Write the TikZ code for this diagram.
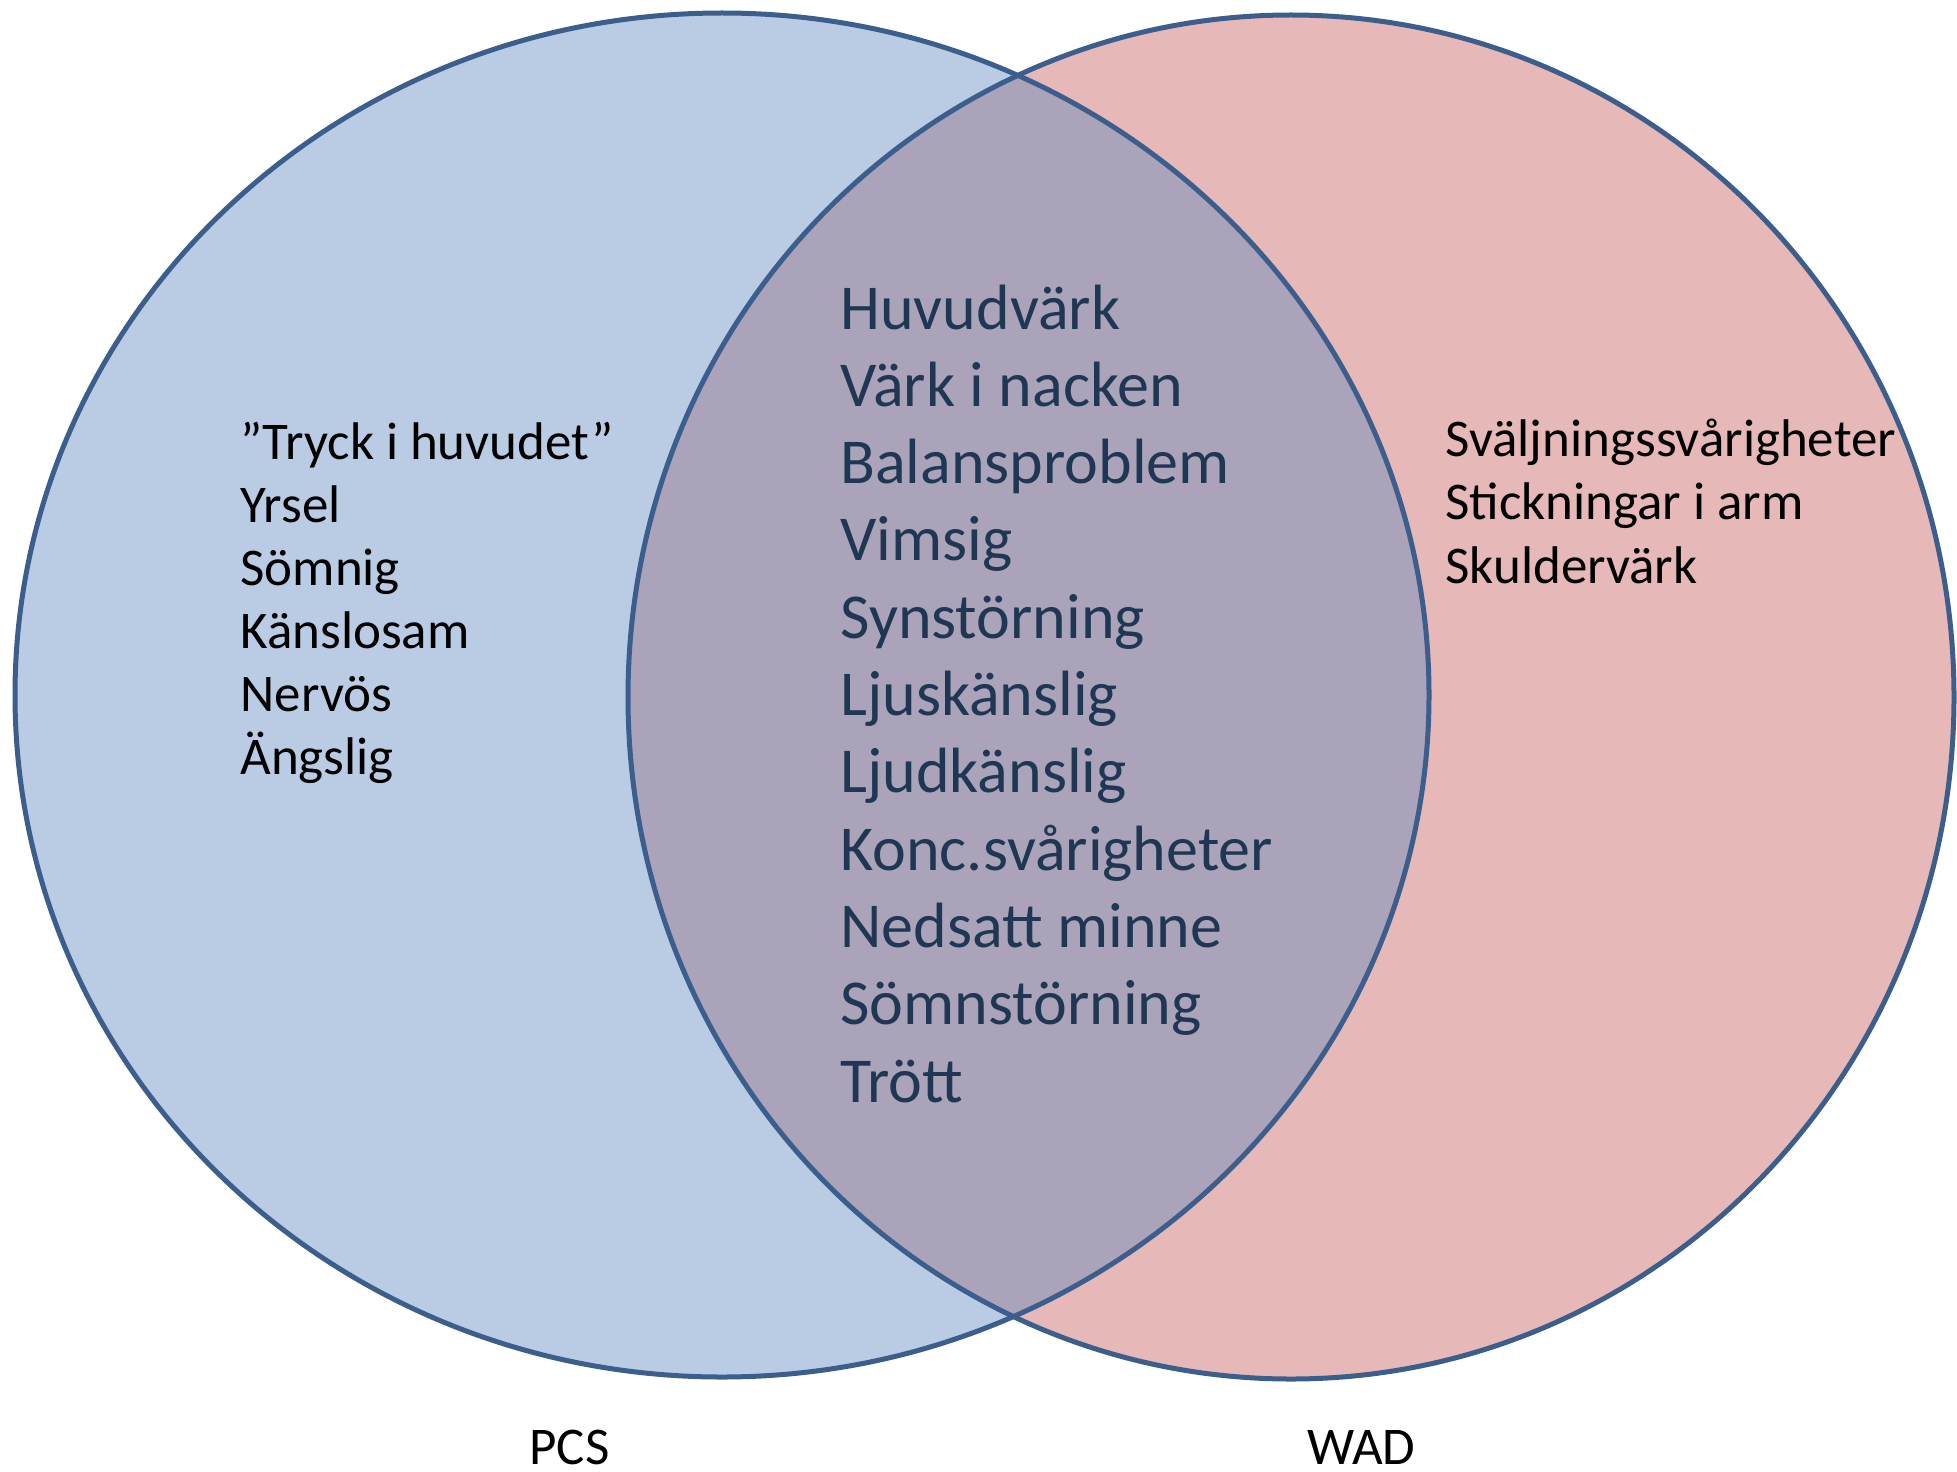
\documentclass[tikz,border=0pt]{standalone}
\usepackage{fontspec}
\setmainfont{Carlito}
\definecolor{leftfill}{HTML}{B9CCE4}
\definecolor{rightfill}{HTML}{E6B8B7}
\definecolor{lensfill}{HTML}{AAA3BA}
\definecolor{rim}{HTML}{3B5E8C}
\definecolor{midtext}{HTML}{1F3752}
\begin{document}
\begin{tikzpicture}[x=0.5pt,y=-0.5pt,
  rimline/.style={draw=rim,line width=2.5pt},
  midlabel/.style={anchor=base west,inner sep=0pt,text=midtext,font=\fontsize{32pt}{38pt}\selectfont},
  sidelabel/.style={anchor=base west,inner sep=0pt,text=black,font=\fontsize{26.5pt}{31pt}\selectfont}]
\useasboundingbox (0,0) rectangle (1957,1471);
\fill[leftfill] (722,695) ellipse [x radius=707,y radius=682];
\fill[rightfill] (1291,697) ellipse [x radius=663,y radius=682];
\begin{scope}
  \clip (722,695) ellipse [x radius=707,y radius=682];
  \fill[lensfill] (1291,697) ellipse [x radius=663,y radius=682];
\end{scope}
\draw[rimline] (722,695) ellipse [x radius=707,y radius=682];
\draw[rimline] (1291,697) ellipse [x radius=663,y radius=682];
% centre list
\node[midlabel] (m1) at (840,329) {Huvudvärk};
\node[midlabel] (m2) at (840,406.3) {Värk i nacken};
\node[midlabel] (m3) at (840,483.6) {Balansproblem};
\node[midlabel] (m4) at (840,560.9) {Vimsig};
\node[midlabel] (m5) at (840,638.2) {Synstörning};
\node[midlabel] (m6) at (840,715.5) {Ljuskänslig};
\node[midlabel] (m7) at (840,792.8) {Ljudkänslig};
\node[midlabel] (m8) at (840,870.1) {Konc.svårigheter};
\node[midlabel] (m9) at (840,947.4) {Nedsatt minne};
\node[midlabel] (m10) at (840,1024.7) {Sömnstörning};
\node[midlabel] (m11) at (840,1102) {Trött};
% left list
\node[sidelabel] (l1) at (240,459) {”Tryck i huvudet”};
\node[sidelabel] (l2) at (240,522) {Yrsel};
\node[sidelabel] (l3) at (240,585) {Sömnig};
\node[sidelabel] (l4) at (240,648) {Känslosam};
\node[sidelabel] (l5) at (240,711) {Nervös};
\node[sidelabel] (l6) at (240,774) {Ängslig};
% right list
\node[sidelabel] (r1) at (1445,456) {Sväljningssvårigheter};
\node[sidelabel] (r2) at (1445,519.5) {Stickningar i arm};
\node[sidelabel] (r3) at (1445,583) {Skuldervärk};
% set labels
\node[sidelabel,text depth=0pt] (pcs) at (529,1464) {PCS};
\node[sidelabel,text depth=0pt] (wad) at (1307,1464) {WAD};
\end{tikzpicture}
\end{document}
